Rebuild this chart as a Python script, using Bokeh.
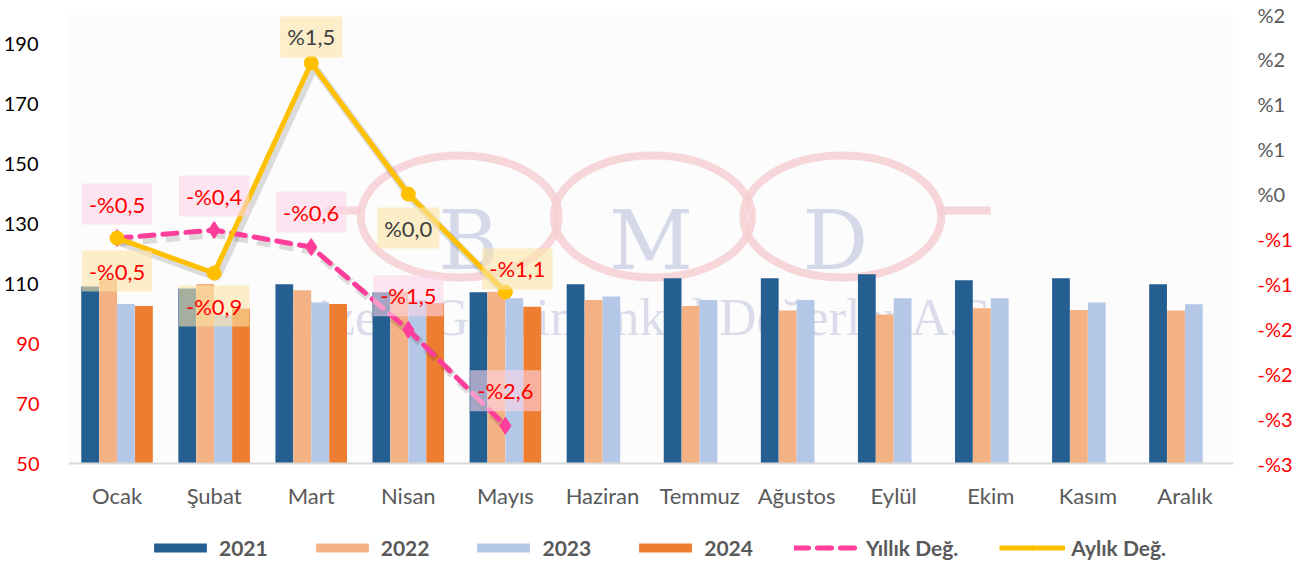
from bokeh.plotting import figure
from bokeh.models import (FactorRange, Range1d, LinearAxis, FixedTicker, ColumnDataSource,
                          Label, Legend, LegendItem, Span, BoxAnnotation)
from bokeh.transform import dodge
from bokeh.core.properties import value
from bokeh.embed import file_html
from bokeh.resources import INLINE

# ---------------- data ----------------
months = ["Ocak", "Şubat", "Mart", "Nisan", "Mayıs", "Haziran", "Temmuz",
          "Ağustos", "Eylül", "Ekim", "Kasım", "Aralık"]
v2021 = [109.1, 108.5, 109.9, 107.2, 107.2, 109.9, 111.9, 111.9, 113.2, 111.2, 111.9, 109.9]
v2022 = [111.6, 110.0, 107.9, 107.4, 107.4, 104.6, 102.6, 101.1, 99.8, 101.9, 101.3, 101.1]
v2023 = [103.3, 99.6, 103.8, 104.5, 105.2, 105.8, 104.6, 104.6, 105.2, 105.2, 103.8, 103.2]
v2024 = [102.6, 101.8, 103.3, 103.5, 102.4]
yillik = [-0.49, -0.40, -0.59, -1.51, -2.58]   # Yıllık Değ. (%)
aylik = [-0.49, -0.88, 1.46, 0.0, -1.09]       # Aylık Değ. (%)

left_ticks = [190, 170, 150, 130, 110, 90, 70, 50]
right_ticks = [2.0, 1.5, 1.0, 0.5, 0.0, -0.5, -1.0, -1.5, -2.0, -2.5, -3.0]
right_tick_labels = ["%2", "%2", "%1", "%1", "%0", "-%1", "-%1", "-%2", "-%2", "-%3", "-%3"]

# ---------------- styles / layout ----------------
C2021, C2022, C2023, C2024 = "#255e91", "#f4b183", "#b4c7e7", "#ed7d31"
PINK, GOLD = "#ff3d9a", "#ffc000"
RED, GRAY, DARK = "#ff0000", "#595959", "#404040"
FONT = "Lato"
W_PX, H_PX = 1316, 565
TOP_PX, AXIS_PX = 14, 463          # plot-area top and category-axis line (pixels)
L_MIN, L_MAX = 50, 200             # left value axis
R_MIN, R_MAX = -3, 2               # right % axis
below = (H_PX - AXIS_PX) / (AXIS_PX - TOP_PX)   # extra room under the axis for labels+legend

p = figure(width=W_PX, height=H_PX, x_range=FactorRange(*months, range_padding=0),
           y_range=Range1d(L_MIN - below * (L_MAX - L_MIN), L_MAX),
           output_backend="svg", toolbar_location=None, x_axis_location=None,
           min_border_left=64, min_border_right=83, min_border_top=TOP_PX, min_border_bottom=0)
sh = 4 / (AXIS_PX - TOP_PX) * (R_MAX - R_MIN)    # shadow shift (4 px)
p.extra_y_ranges = {
    "right": Range1d(R_MIN - below * (R_MAX - R_MIN), R_MAX),
    "shadow": Range1d(R_MIN - below * (R_MAX - R_MIN) + sh, R_MAX + sh),
}
p.background_fill_color = "white"
p.border_fill_color = "white"
p.outline_line_color = None
p.xgrid.visible = False
p.ygrid.visible = False
p.add_layout(BoxAnnotation(bottom=L_MIN, top=L_MAX, fill_color="#fcfcfc", fill_alpha=1,
                           line_color=None, level="underlay"))


def style_axis(ax, color, standoff):
    ax.axis_line_color = None
    ax.major_tick_line_color = None
    ax.minor_tick_line_color = None
    ax.major_label_text_color = color
    ax.major_label_text_font = FONT
    ax.major_label_text_font_size = "20px"
    ax.major_label_standoff = standoff


# left axes: values >= 100 black, below 100 red (second axis pulled onto the same column)
p.yaxis.ticker = FixedTicker(ticks=[t for t in left_ticks if t >= 100])
style_axis(p.yaxis[0], "#000000", 24)
lax_red = LinearAxis(ticker=FixedTicker(ticks=[t for t in left_ticks if t < 100]))
style_axis(lax_red, RED, -45)
p.add_layout(lax_red, "left")

# right axes: positive grey, negative red
rax = LinearAxis(y_range_name="right", ticker=FixedTicker(ticks=[t for t in right_ticks if t >= 0]),
                 major_label_overrides={t: l for t, l in zip(right_ticks, right_tick_labels) if t >= 0})
style_axis(rax, GRAY, 18)
p.add_layout(rax, "right")
rax_red = LinearAxis(y_range_name="right", ticker=FixedTicker(ticks=[t for t in right_ticks if t < 0]),
                     major_label_overrides={t: l for t, l in zip(right_ticks, right_tick_labels) if t < 0})
style_axis(rax_red, RED, -37)
p.add_layout(rax_red, "right")

# category axis: line + month labels
p.add_layout(Span(location=L_MIN, dimension="width", line_color="#d9d9d9", line_width=2))
for i, m in enumerate(months):
    p.add_layout(Label(x=i + 0.5, y=L_MIN, y_offset=-32, text=m, text_align="center",
                       text_baseline="middle", text_color=GRAY, text_font=FONT,
                       text_font_size="22px"))

# ---------------- watermark (background logo) ----------------
RING = "#f6cfd4"
LOGO = "#d3d6e8"
p.ellipse(x=[4.03, 6.02, 7.97], y=[132.5] * 3, width=198, height=122,
          width_units="screen", height_units="screen", fill_color=None,
          line_color=RING, line_alpha=0.85, line_width=8)
p.segment(x0=[8.95, 2.65], y0=[134.5, 134.5], x1=[9.5, 3.0], y1=[134.5, 134.5],
          line_color=RING, line_alpha=0.85, line_width=8)
p.text(x=[4.12, 6.0, 7.9], y=[124.5] * 3, text=["B", "M", "D"], text_align="center",
       text_baseline="alphabetic", text_font=value("DejaVu Serif"), text_font_size="82px",
       text_color=LOGO, text_alpha=0.95)
p.text(x=[9.66], y=[98.8], text=["Gizem Gayrimenkul Değerler A.Ş."], text_align="right",
       text_baseline="alphabetic", text_font=value("Liberation Serif"), text_font_size="52px",
       text_color=LOGO, text_alpha=0.85)

# ---------------- bars ----------------
src = ColumnDataSource(dict(m=months, a=v2021, b=v2022, c=v2023))
src24 = ColumnDataSource(dict(m=months[:len(v2024)], d=v2024))
W = 0.183
r21 = p.vbar(x=dodge("m", -0.277, range=p.x_range), top="a", bottom=L_MIN, width=W, source=src,
             fill_color=C2021, line_color=None)
r22 = p.vbar(x=dodge("m", -0.092, range=p.x_range), top="b", bottom=L_MIN, width=W, source=src,
             fill_color=C2022, line_color=None)
r23 = p.vbar(x=dodge("m", 0.092, range=p.x_range), top="c", bottom=L_MIN, width=W, source=src,
             fill_color=C2023, line_color=None)
r24 = p.vbar(x=dodge("m", 0.277, range=p.x_range), top="d", bottom=L_MIN, width=W, source=src24,
             fill_color=C2024, line_color=None)

# ---------------- lines ----------------
lsrc = ColumnDataSource(dict(m=months[:len(yillik)], y=yillik, a=aylik))
p.line(x=dodge("m", 0.03, range=p.x_range), y="y", source=lsrc, y_range_name="shadow",
       line_color="black", line_alpha=0.13, line_width=8, line_dash="14 9")
p.line(x=dodge("m", 0.03, range=p.x_range), y="a", source=lsrc, y_range_name="shadow",
       line_color="black", line_alpha=0.13, line_width=8)

ry = p.line(x="m", y="y", source=lsrc, y_range_name="right", line_color=PINK, line_width=5,
            line_dash="14 9", line_cap="round")
ry_m = p.scatter(x="m", y="y", source=lsrc, y_range_name="right", marker="diamond", size=17,
                 fill_color=PINK, line_color=PINK)
ra = p.line(x="m", y="a", source=lsrc, y_range_name="right", line_color=GOLD, line_width=5,
            line_join="round")
ra_m = p.scatter(x="m", y="a", source=lsrc, y_range_name="right", marker="circle", size=14,
                 fill_color=GOLD, line_color=GOLD)


def fmt(v):
    s = ("%.1f" % (abs(v) + 1e-9)).replace(".", ",")
    return ("-%" if round(v, 1) < 0 else "%") + s


# data label placement (screen offsets)
yil_off = [(0, 34), (0, 34), (0, 35), (0, 34), (0, 35)]
ayl_off = [(0, -33), (0, -33), (0, 26), (0, -34), (12, 23)]
for i, v in enumerate(yillik):
    p.add_layout(Label(x=i + 0.5, y=v, y_range_name="right", x_offset=yil_off[i][0],
                       y_offset=yil_off[i][1], text=fmt(v), text_align="center",
                       text_baseline="middle", text_color=RED, text_font=FONT,
                       text_font_size="22px", background_fill_color="#fcd6e8",
                       background_fill_alpha=0.6, padding=7))
for i, v in enumerate(aylik):
    p.add_layout(Label(x=i + 0.5, y=v, y_range_name="right", x_offset=ayl_off[i][0],
                       y_offset=ayl_off[i][1], text=fmt(v), text_align="center",
                       text_baseline="middle", text_color=RED if round(v, 1) < 0 else DARK,
                       text_font=FONT, text_font_size="22px",
                       background_fill_color="#fde5a8", background_fill_alpha=0.6, padding=7))

# ---------------- legend ----------------
legend = Legend(items=[
    LegendItem(label="2021", renderers=[r21]),
    LegendItem(label="2022", renderers=[r22]),
    LegendItem(label="2023", renderers=[r23]),
    LegendItem(label="2024", renderers=[r24]),
    LegendItem(label="Yıllık Değ.", renderers=[ry, ry_m]),
    LegendItem(label="Aylık Değ.", renderers=[ra, ra_m]),
], orientation="horizontal", location=(79, 5))
legend.label_text_font = FONT
legend.label_text_font_style = "bold"
legend.label_text_font_size = "21px"
legend.label_text_color = GRAY
legend.glyph_width = 66
legend.glyph_height = 11
legend.label_standoff = 6
legend.spacing = 41
legend.padding = 0
legend.margin = 0
legend.border_line_color = None
legend.background_fill_alpha = 0
p.add_layout(legend)

open("out.html", "w").write(file_html(p, INLINE))
